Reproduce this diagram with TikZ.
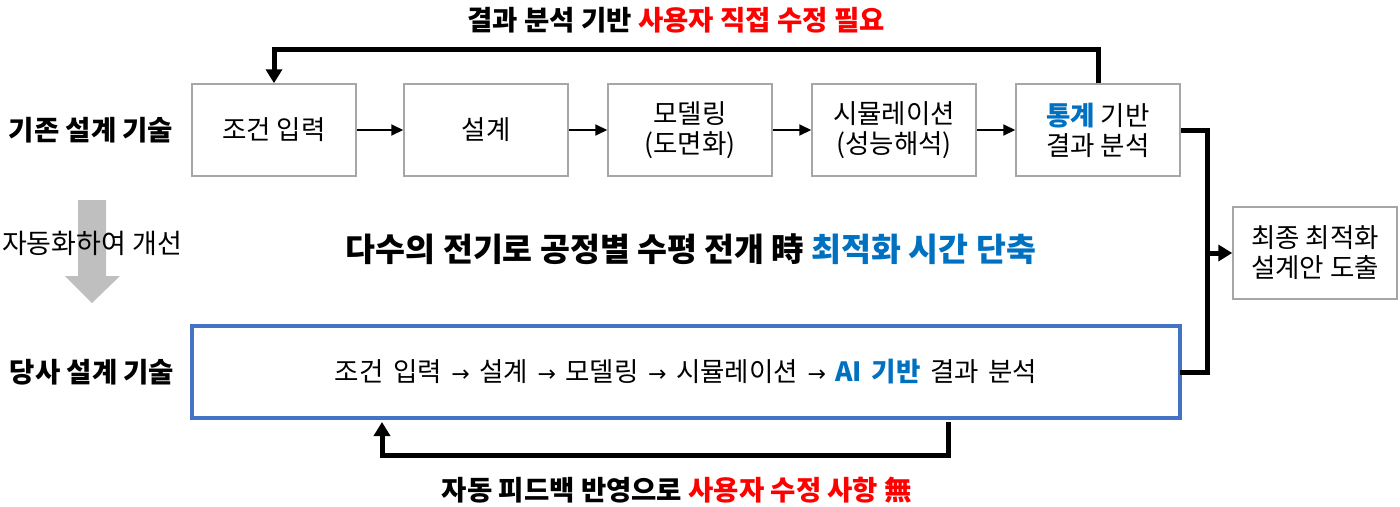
\documentclass[tikz,border=0pt]{standalone}
\usepackage{fontspec}
\setmainfont{Noto Sans CJK KR}
\newfontfamily\arrfont{DejaVu Sans}
\usetikzlibrary{arrows.meta}
\definecolor{myred}{HTML}{FF0000}
\definecolor{myblue}{HTML}{0070C0}
\definecolor{boxblue}{HTML}{4472C4}
\definecolor{boxgray}{HTML}{A6A6A6}
\definecolor{arrowgray}{HTML}{BFBFBF}
\newcommand{\ra}{{\arrfont\fontsize{22}{24}\selectfont →}}
\begin{document}
\begin{tikzpicture}[x=1pt,y=-1pt,
  procbox/.style={draw=boxgray, line width=1.5pt, minimum width=164pt, minimum height=92pt, inner sep=0pt, align=center, font=\fontsize{26.5}{30}\selectfont},
  thinarrow/.style={line width=2pt, -{Triangle[length=12pt,width=11pt]}},
  thickline/.style={line width=5pt, line join=miter},
  thickarrow/.style={line width=5pt, line join=miter, -{Triangle[length=14pt,width=16pt]}},
  sidelabel/.style={font=\fontsize{27.5}{30}\selectfont\bfseries, inner sep=0pt},
  biglabel/.style={font=\fontsize{27.5}{30}\selectfont\bfseries, inner sep=0pt},
]
\useasboundingbox (0,0) rectangle (1400,506);

% top row
\node[procbox] (b1) at (274,130) {조건 입력};
\node[procbox] (b2) at (486,130) {설계};
\node[procbox] (b3) at (690,130) {모델링\\(도면화)};
\node[procbox] (b4) at (894,130) {시뮬레이션\\(성능해석)};
\node[procbox] (b5) at (1098,130) {{\bfseries\color{myblue}통계} 기반\\결과 분석};
\node[procbox] (fin) at (1315,253) {최종 최적화\\설계안 도출};

\draw[thinarrow] (b1) -- (b2);
\draw[thinarrow] (b2) -- (b3);
\draw[thinarrow] (b3) -- (b4);
\draw[thinarrow] (b4) -- (b5);

% blue box
\node[draw=boxblue, line width=4pt, minimum width=988pt, minimum height=92pt, inner sep=0pt,
      font=\fontsize{26.5}{30}\selectfont] (ai) at (686,372)
  {\spaceskip=9.5pt plus 1pt 조건 입력 \ra{} 설계 \ra{} 모델링 \ra{} 시뮬레이션 \ra{} {\bfseries\color{myblue}AI 기반} 결과 분석};

% labels
\node[sidelabel] (l1) at (91,130) {기존 설계 기술};
\node[sidelabel] (l2) at (92,372) {당사 설계 기술};
\node[biglabel] (ttop) at (676,20) {결과 분석 기반 {\color{myred}사용자 직접 수정 필요}};
\node[biglabel] (tbot) at (677,490) {자동 피드백 반영으로 {\color{myred}사용자 수정 사항 無}};
\node[font=\fontsize{32.5}{36}\selectfont\bfseries, inner sep=0pt] (tmid) at (691,249)
  {다수의 전기로 공정별 수평 전개 時 {\color{myblue}최적화 시간 단축}};

% gray arrow
\fill[arrowgray] (78,200) -- (106,200) -- (106,276) -- (120,276) -- (92,303) -- (65,276) -- (78,276) -- cycle;
\node[font=\fontsize{27}{30}\selectfont, inner sep=0pt] (auto) at (92,243) {자동화하여 개선};

% feedback top
\coordinate (ty) at (0,49);
\draw[thickarrow] (b5.north) -- (b5.north |- ty) -| (b1.north);

% right junction
\coordinate (jx) at (1207,0);
\draw[thickline] (b5.east) -- (b5.east -| jx) -- (ai.east -| jx) -- ([xshift=-2pt]ai.east);
\draw[thickarrow] ([xshift=-2.5pt]jx |- fin.west) -- (fin.west);

% feedback bottom
\coordinate (fbR) at (948,455);
\coordinate (fbL) at (382,455);
\draw[thickarrow, shorten >=2pt] ([yshift=-2pt]ai.south -| fbR) -- (fbR) -- (fbL) -- (ai.south -| fbL);
\end{tikzpicture}
\end{document}
